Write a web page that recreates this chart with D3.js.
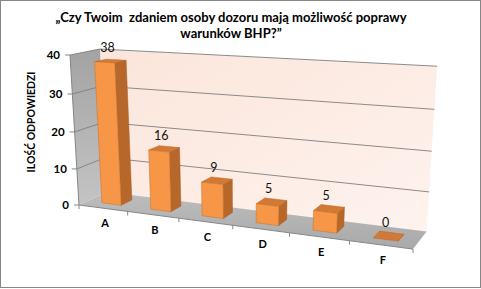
<!DOCTYPE html>
<html>
<head>
<meta charset="utf-8">
<script src="https://cdn.jsdelivr.net/npm/d3@7"></script>
<style>
  body { margin: 0; background: #fff; }
  text { font-family: Lato, "Liberation Sans", sans-serif; }
</style>
</head>
<body>
<div id="chart-area"></div>
<script>
const categories = ["A", "B", "C", "D", "E", "F"];
const answers = [38, 16, 9, 5, 5, 0];
const yTicks = [0, 10, 20, 30, 40];
const titleLines = ["\u201ECzy Twoim  zdaniem osoby dozoru mają możliwość poprawy", "warunków BHP?\u201D"];
const yTitle = "ILOŚĆ ODPOWIEDZI";

const width = 481;
const height = 289;

// perspective box: origin (front-bottom-left) + vanishing points for the three axes
const O = [79, 205];
const VX = [-1860, -51], VY = [249, 3043], VZ = [654, -62];
const wX = -0.14694, wY = -0.0502, wZ = 0.0512;

function proj(u, v, w) {
    const d = 1 + u * wX + v * wY + w * wZ;
    return [
        (u * wX * VX[0] + v * wY * VY[0] + w * wZ * VZ[0] + O[0]) / d,
        (u * wX * VX[1] + v * wY * VY[1] + w * wZ * VZ[1] + O[1]) / d
    ];
}

const x = d3.scaleBand()
    .domain(categories)
    .range([0, 1])
    .paddingInner(0.6)
    .paddingOuter(0.3);

const y = d3.scaleLinear()
    .domain([0, 40])
    .range([0, 1]);

const z = d3.scaleLinear()
    .domain([0, 1])
    .range([0.3, 0.7]);

const svg = d3.select('#chart-area')
    .append('svg')
    .attr("width", width)
    .attr("height", height);

const defs = svg.append('defs');
const gWall = defs.append('linearGradient').attr('id', 'backwall')
    .attr('x1', 0).attr('y1', 0).attr('x2', 1).attr('y2', 1);
gWall.append('stop').attr('offset', 0).attr('stop-color', '#fbe5da');
gWall.append('stop').attr('offset', 1).attr('stop-color', '#fef3ee');
const gSide = defs.append('linearGradient').attr('id', 'sidewall')
    .attr('x1', 0).attr('y1', 0).attr('x2', 0).attr('y2', 1);
gSide.append('stop').attr('offset', 0).attr('stop-color', '#a3a3a3');
gSide.append('stop').attr('offset', 1).attr('stop-color', '#c4c4c4');
const gFloor = defs.append('linearGradient').attr('id', 'floor')
    .attr('x1', 0).attr('y1', 0).attr('x2', 0).attr('y2', 1);
gFloor.append('stop').attr('offset', 0).attr('stop-color', '#bdbdbd');
gFloor.append('stop').attr('offset', 1).attr('stop-color', '#a9a9a9');

svg.append('rect')
    .attr('x', 0.5).attr('y', 0.5)
    .attr('width', width - 1).attr('height', height - 2)
    .attr('fill', '#fff')
    .attr('stroke', '#868686');

const poly = pts => "M" + pts.map(p => p.join(",")).join("L") + "Z";
const line = d3.line();

// walls and floor
svg.append('path')
    .attr('d', poly([proj(0, 0, 1), proj(0, 1, 1), proj(1, 1, 1), proj(1, 0, 1)]))
    .attr('fill', 'url(#backwall)');
svg.append('path')
    .attr('d', poly([proj(0, 0, 0), proj(0, 1, 0), proj(0, 1, 1), proj(0, 0, 1)]))
    .attr('fill', 'url(#sidewall)');
svg.append('path')
    .attr('d', poly([proj(0, 0, 0), proj(1, 0, 0), proj(1, 0, 1), proj(0, 0, 1)]))
    .attr('fill', 'url(#floor)');

// gridlines
yTicks.filter(t => t > 0).forEach(t => {
    svg.append('path')
        .attr('d', line([proj(0, y(t), 0), proj(0, y(t), 1), proj(1, y(t), 1)]))
        .attr('fill', 'none')
        .attr('stroke', '#7f7f7f')
        .attr('stroke-width', 0.9);
});

// y axis
svg.append('path')
    .attr('d', line([proj(0, 0, 0), proj(0, 1, 0)]))
    .attr('stroke', '#868686').attr('fill', 'none');
yTicks.forEach(t => {
    const p = proj(0, y(t), 0);
    svg.append('line')
        .attr('x1', p[0] - 5).attr('x2', p[0])
        .attr('y1', p[1]).attr('y2', p[1])
        .attr('stroke', '#868686');
    svg.append('text')
        .attr('x', p[0] - 10).attr('y', p[1])
        .attr('dy', '0.35em')
        .attr('text-anchor', 'end')
        .attr('font-size', '11.5px')
        .attr('font-weight', 'bold')
        .text(t);
});

// x axis
svg.append('path')
    .attr('d', line([proj(0, 0, 0), proj(1, 0, 0)]))
    .attr('stroke', '#868686').attr('fill', 'none');
d3.range(categories.length + 1).forEach(i => {
    const p = proj(i / categories.length, 0, 0);
    svg.append('line')
        .attr('x1', p[0]).attr('x2', p[0])
        .attr('y1', p[1]).attr('y2', p[1] + 4)
        .attr('stroke', '#868686');
});
categories.forEach(c => {
    const p = proj(x(c) + x.bandwidth() / 2, 0, 0);
    svg.append('text')
        .attr('x', p[0] + 2).attr('y', p[1] + 15)
        .attr('dy', '0.35em')
        .attr('text-anchor', 'middle')
        .attr('font-size', '11px')
        .attr('font-weight', 'bold')
        .text(c);
});

// bars
categories.forEach((c, i) => {
    const x0 = x(c), x1 = x(c) + x.bandwidth();
    const z0 = z(0), z1 = z(1);
    const h = y(answers[i]);
    const g = svg.append('g');
    g.append('path')
        .attr('d', poly([proj(x1, 0, z0), proj(x1, h, z0), proj(x1, h, z1), proj(x1, 0, z1)]))
        .attr('fill', '#b8672b').attr('stroke', '#a85d26').attr('stroke-width', 0.5);
    g.append('path')
        .attr('d', poly([proj(x0, h, z0), proj(x1, h, z0), proj(x1, h, z1), proj(x0, h, z1)]))
        .attr('fill', '#d27a35').attr('stroke', '#b8672b').attr('stroke-width', 0.5);
    if (answers[i] > 0) {
        g.append('path')
            .attr('d', poly([proj(x0, 0, z0), proj(x0, h, z0), proj(x1, h, z0), proj(x1, 0, z0)]))
            .attr('fill', '#f79646').attr('stroke', '#c0702f').attr('stroke-width', 0.5);
    }
    const p = proj((x0 + x1) / 2, h, 0.5);
    svg.append('text')
        .attr('x', p[0] - 3).attr('y', p[1] - 13)
        .attr('dy', '0.35em')
        .attr('text-anchor', 'middle')
        .attr('font-size', '12.5px')
        .attr('fill', '#111')
        .text(answers[i]);
});

// titles
svg.append('text')
    .attr('x', 231).attr('y', 17)
    .attr('dy', '0.35em')
    .attr('text-anchor', 'middle')
    .attr('font-size', '13px')
    .attr('font-weight', 'bold')
    .style('white-space', 'pre')
    .text(titleLines[0]);
svg.append('text')
    .attr('x', 231).attr('y', 33)
    .attr('dy', '0.35em')
    .attr('text-anchor', 'middle')
    .attr('font-size', '13px')
    .attr('font-weight', 'bold')
    .text(titleLines[1]);

svg.append('text')
    .attr('transform', 'translate(31,122) rotate(-90)')
    .attr('dy', '0.35em')
    .attr('text-anchor', 'middle')
    .attr('font-size', '10.5px')
    .attr('font-weight', 'bold')
    .text(yTitle);
</script>
</body>
</html>
